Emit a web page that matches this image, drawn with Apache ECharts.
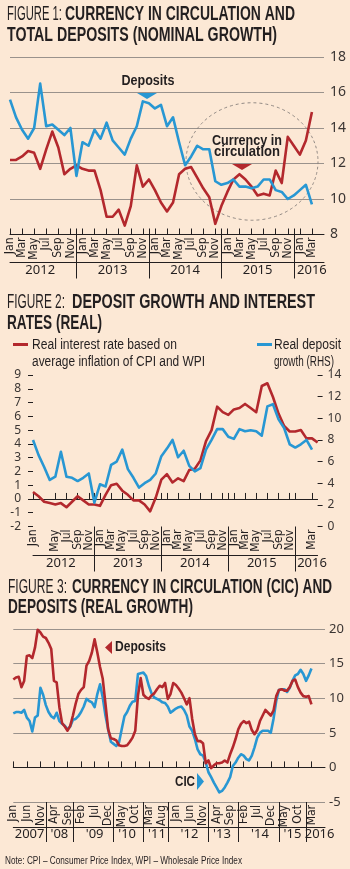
<!DOCTYPE html>
<html>
<head>
<meta charset="utf-8">
<script src="https://cdn.jsdelivr.net/npm/echarts@6/dist/echarts.min.js"></script>
<style>
  html, body { margin: 0; padding: 0; background: #fce8d5; }
  #chart { width: 350px; height: 869px; }
</style>
</head>
<body>
<div id="chart"></div>
<script>
// figure 1: nominal growth, Jan 2012 - Mar 2016
const fig1Deposits = [15.6, 14.6, 13.9, 13.4, 14.0, 16.5, 14.1, 14.2, 13.9, 13.6, 14.0, 11.3,
  13.2, 13.0, 13.9, 13.4, 14.3, 13.3, 12.9, 12.5, 13.4, 14.1, 15.5, 15.4,
  15.1, 15.3, 14.1, 14.6, 13.2, 11.9, 12.4, 13.0, 12.8, 12.8, 11.0, 10.8,
  10.9, 11.1, 10.7, 10.7, 10.6, 10.7, 11.1, 11.1, 10.5, 10.4, 10.0, 10.2,
  10.5, 10.8, 9.7];
const fig1Currency = [12.2, 12.2, 12.4, 12.7, 12.6, 11.7, 12.8, 13.8, 12.9, 11.4, 11.7, 11.9,
  11.7, 11.6, 11.6, 10.5, 9.0, 9.0, 9.4, 8.5, 9.6, 11.9, 10.7, 11.1,
  10.5, 9.8, 9.3, 9.8, 11.4, 11.7, 11.8, 11.2, 10.6, 10.1, 8.6, 9.6,
  10.4, 11.1, 11.4, 11.1, 10.7, 10.2, 10.3, 10.2, 11.6, 10.9, 13.5, 13.0,
  12.5, 13.3, 14.9];
const fig1YearLabels = ['2012', '2013', '2014', '2015', '2016'];
const fig1YearPos = [5, 17, 29, 41, 50];

// figure 2: real rates, Jan 2012 - Apr 2016
const fig2Rate = [0.5, 0.2, -0.2, -0.3, -0.4, -0.3, -0.6, -0.2, 0.2, -0.1, -0.4, -0.4,
  -0.5, 0.3, 1.0, 1.1, 0.6, 0.3, -0.1, -0.1, -0.4, -0.9, 0.1, 1.4,
  1.8, 1.2, 1.5, 1.3, 2.1, 2.2, 2.8, 4.2, 5.0, 6.7, 6.3, 6.1,
  6.5, 6.6, 6.9, 6.6, 6.3, 8.2, 8.4, 7.4, 6.2, 5.3, 4.9, 4.9,
  5.0, 4.4, 4.4, 4.1];
const fig2Deposit = [8.0, 6.6, 5.5, 4.3, 4.6, 6.9, 4.6, 4.5, 4.2, 4.5, 4.9, 2.2,
  3.9, 3.7, 5.7, 6.0, 7.1, 5.3, 4.5, 3.6, 4.0, 4.3, 4.9, 6.5,
  7.2, 8.0, 6.4, 7.0, 5.6, 5.1, 5.4, 7.1, 8.0, 9.0, 9.0, 8.3,
  8.1, 9.0, 8.8, 8.9, 8.8, 8.4, 11.1, 11.3, 9.9, 9.1, 7.6, 7.3,
  7.6, 8.0, 7.1];
const fig2YearLabels = ['2012', '2013', '2014', '2015', '2016'];
const fig2YearPos = [5, 17, 29, 41, 50];

// figure 3: real growth, Jan 2007 - Mar 2016
const fig3Deposits = [12.7, 13.0, 13.1, 11.6, 12.5, 16.1, 16.2, 15.8, 17.3, 19.9,
  19.5, 18.9, 18.7, 18.0, 17.1, 12.5, 12.3, 8.7, 6.4, 5.9,
  5.3, 6.0, 7.5, 9.2, 10.6, 11.2, 11.6, 14.7, 15.4, 16.6,
  18.5, 16.6, 14.5, 12.8, 9.2, 5.5, 4.2, 4.1, 3.9, 3.2,
  3.1, 3.1, 3.2, 3.7, 4.3, 5.3, 10.4, 12.9, 10.5, 10.1,
  9.9, 10.4, 10.7, 11.3, 11.8, 11.6, 12.2, 9.9, 10.6, 12.2,
  11.9, 11.4, 10.8, 10.0, 9.1, 10.0, 7.0, 4.8, 3.8, 3.8,
  3.5, 0.6, 1.0, -0.1, 0.3, 0.6, 0.6, 0.7, 1.0, 0.7,
  1.9, 2.9, 4.1, 5.5, 6.3, 6.7, 6.4, 6.6, 5.4, 4.8,
  5.4, 6.7, 7.5, 8.3, 7.9, 7.5, 8.2, 10.3, 11.2, 11.3,
  11.1, 11.1, 11.6, 12.5, 12.7, 11.6, 10.8, 10.3, 10.2, 10.3,
  9.1];
const fig3Cic = [7.8, 8.0, 8.0, 7.9, 8.3, 7.2, 6.7, 5.2, 7.2, 7.5,
  11.5, 10.5, 9.0, 8.0, 7.4, 7.1, 7.9, 6.7, 6.3, 6.0,
  5.5, 5.9, 6.9, 7.0, 7.4, 8.0, 8.8, 9.9, 9.6, 9.4,
  8.7, 10.6, 12.0, 10.1, 7.5, 5.5, 3.7, 3.4, 3.1, 3.6,
  5.5, 7.4, 8.0, 8.9, 9.5, 9.6, 13.5, 13.6, 13.7, 13.2,
  11.8, 10.7, 10.1, 9.9, 9.7, 9.4, 9.3, 8.8, 7.9, 8.2,
  8.5, 8.7, 8.8, 8.3, 7.5, 5.9, 5.3, 4.1, 2.6, 1.9,
  1.7, 0.7, -0.7, -1.4, -2.2, -2.9, -3.6, -3.4, -2.9, -2.2,
  -1.4, 0.2, 0.7, 1.4, 1.9, 1.7, 1.2, 1.0, 1.7, 2.9,
  4.3, 5.0, 5.3, 5.3, 5.3, 5.0, 7.0, 9.6, 11.2, 11.3,
  11.3, 10.9, 11.5, 12.5, 13.3, 13.5, 14.1, 13.5, 12.5, 13.3,
  14.3];
const fig3YearLabels = ['2007', "'08", "'09", "'10", "'11", "'12", "'13", "'14", "'15", '2016'];
const fig3YearPos = [6, 17, 30, 42, 53, 65, 77, 91, 103, 113];
const fig3Breaks = [12, 22, 37, 48, 57, 72, 83, 98, 108];

const monthNames = ['Jan', 'Feb', 'Mar', 'Apr', 'May', 'Jun', 'Jul', 'Aug', 'Sep', 'Oct', 'Nov', 'Dec'];

const ink = '#231f20';
const red = '#b3282d';
const blue = '#2897d3';
const rule = '#9a928c';
const narrow = "'Liberation Sans Narrow', 'DejaVu Sans Condensed', sans-serif";
const sans = "'Noto Sans', 'Open Sans', sans-serif";

function monthRange(startYear, count) {
  const out = [];
  for (let i = 0; i < count; i++) {
    out.push(monthNames[i % 12] + ' ' + (startYear + Math.floor(i / 12)));
  }
  return out;
}

function yearRow(length, pos, labels) {
  const row = new Array(length).fill('');
  pos.forEach((p, k) => { row[p] = labels[k]; });
  return row;
}

// three stacked x axes: months, year separators + years, rule under the months
function timeAxes(grid, cats, o) {
  const years = yearRow(cats.length, o.yearPos, o.yearLabels);
  return [
    {
      gridIndex: grid, type: 'category', position: 'bottom', data: cats, boundaryGap: false,
      axisLine: { lineStyle: { color: ink, width: 1 } },
      axisTick: { inside: true, length: 6, lineStyle: { color: ink }, interval: (i) => o.tick(i) || (o.sepUp && o.sep(i)) },
      axisLabel: {
        rotate: 90, interval: (i) => o.tick(i), formatter: (v) => v.split(' ')[0],
        showMinLabel: true, showMaxLabel: true,
        fontFamily: narrow, fontSize: 12, color: ink, margin: 3,
      },
      splitLine: { show: false },
    },
    {
      gridIndex: grid, type: 'category', position: 'bottom', data: cats, boundaryGap: false,
      axisLine: { show: false },
      axisTick: { length: o.sepLen, lineStyle: { color: ink }, interval: (i) => o.sep(i) },
      axisLabel: {
        interval: (i) => years[i] !== '', formatter: (v, i) => years[i],
        showMinLabel: true, showMaxLabel: true,
        fontFamily: sans, fontSize: 13, color: ink, margin: o.yearMargin,
      },
      splitLine: { show: false },
    },
    {
      gridIndex: grid, type: 'category', position: 'bottom', offset: o.lineOffset, data: cats, boundaryGap: false,
      axisLine: { lineStyle: { color: ink, width: 1 } },
      axisTick: { show: false },
      axisLabel: { show: false },
      splitLine: { show: false },
    },
  ];
}

const fig1Cats = monthRange(2012, 53);
const fig2Cats = monthRange(2012, 52);
const fig3Cats = monthRange(2007, 116);

const xAxes = [].concat(
  timeAxes(0, fig1Cats, {
    tick: (i) => i <= 50 && i % 2 === 0, sep: (i) => i % 12 === 11, sepUp: true,
    sepLen: 44, lineOffset: 28, yearMargin: 29, yearPos: fig1YearPos, yearLabels: fig1YearLabels,
  }),
  timeAxes(1, fig2Cats, {
    tick: (i) => i <= 50 && i % 2 === 0, sep: (i) => i % 12 === 11, sepUp: true,
    sepLen: 45, lineOffset: 28.5, yearMargin: 30, yearPos: fig2YearPos, yearLabels: fig2YearLabels,
  }),
  timeAxes(2, fig3Cats, {
    tick: (i) => i <= 110 && i % 5 === 0, sep: (i) => fig3Breaks.indexOf(i) >= 0, sepUp: false,
    sepLen: 40, lineOffset: 25, yearMargin: 26, yearPos: fig3YearPos, yearLabels: fig3YearLabels,
  })
);

const yAxes = [
  {
    gridIndex: 0, type: 'value', position: 'right', min: 8, max: 18, interval: 2,
    axisLine: { show: false }, axisTick: { show: false },
    axisLabel: { fontFamily: sans, fontSize: 14, color: '#3a3533', margin: 6 },
    splitLine: { lineStyle: { color: rule, width: 1 } },
  },
  {
    gridIndex: 1, type: 'value', position: 'left', min: -2, max: 9, interval: 1,
    axisLine: { show: false }, axisTick: { show: true, length: 5, lineStyle: { color: ink } },
    axisLabel: { fontFamily: sans, fontSize: 12, color: '#3a3533', margin: 12 },
    splitLine: { show: false },
  },
  {
    gridIndex: 1, type: 'value', position: 'right', min: 0, max: 14, interval: 2,
    axisLine: { show: false }, axisTick: { show: true, length: 5, lineStyle: { color: ink } },
    axisLabel: { fontFamily: sans, fontSize: 12, color: '#3a3533', margin: 10 },
    splitLine: { show: false },
  },
  {
    gridIndex: 2, type: 'value', position: 'right', min: -5, max: 20, interval: 5,
    axisLine: { show: false }, axisTick: { show: false },
    axisLabel: { fontFamily: sans, fontSize: 13, color: '#3a3533', margin: 4 },
    splitLine: { lineStyle: { color: rule, width: 1 } },
  },
];

function lineSeries(data, color, xi, yi, z) {
  return {
    type: 'line', data: data, xAxisIndex: xi, yAxisIndex: yi, z: z,
    showSymbol: false, symbol: 'none', silent: true,
    lineStyle: { color: color, width: 2.6, join: 'round' },
  };
}

// text squeezed horizontally to the width it has in the printed graphic
const measureCtx = document.createElement('canvas').getContext('2d');
function txt(x, y, text, font, width, align) {
  measureCtx.font = font;
  const w = measureCtx.measureText(text).width;
  return {
    type: 'text', x: x, y: y, scaleX: width ? width / w : 1,
    style: {
      text: text, font: font, fill: ink,
      textAlign: align || 'left', textVerticalAlign: 'middle',
    },
  };
}

function tri(points, color) {
  return { type: 'polygon', shape: { points: points }, style: { fill: color } };
}

const boldTitle = "bold 21px 'Liberation Sans', sans-serif";
const lightTitle = "21px 'Liberation Sans', sans-serif";
const callout = "bold 14px 'Liberation Sans', sans-serif";
const legendFont = "14px 'Liberation Sans', sans-serif";

const graphics = [
  // titles
  txt(7, 14, 'FIGURE 1:', lightTitle, 55),
  txt(65, 14, 'CURRENCY IN CIRCULATION AND', boldTitle, 230),
  txt(7, 35.5, 'TOTAL DEPOSITS (NOMINAL GROWTH)', boldTitle, 270),
  txt(7, 302.5, 'FIGURE 2:', lightTitle, 58),
  txt(72, 302.5, 'DEPOSIT GROWTH AND INTEREST', boldTitle, 243),
  txt(7, 323.5, 'RATES (REAL)', boldTitle, 95),
  txt(8, 587.5, 'FIGURE 3:', lightTitle, 59),
  txt(72, 587.5, 'CURRENCY IN CIRCULATION (CIC) AND', boldTitle, 260),
  txt(8, 607.5, 'DEPOSITS (REAL GROWTH)', boldTitle, 185),

  // figure 1 callouts
  {
    type: 'circle', x: 252, y: 161.5, scaleY: 0.89, shape: { cx: 0, cy: 0, r: 66 },
    style: { fill: 'none', stroke: '#8a837e', lineWidth: 1, lineDash: [3, 3] }, z: 1,
  },
  txt(148, 81, 'Deposits', callout, 53, 'center'),
  tri([[137, 93], [157, 93], [147, 99]], blue),
  txt(247, 141, 'Currency in', callout, 70, 'center'),
  txt(247, 152, 'circulation', callout, 66, 'center'),
  tri([[232, 164], [252, 164], [242, 170]], red),

  // figure 2 legend
  { type: 'line', shape: { x1: 13, y1: 344.5, x2: 28, y2: 344.5 }, style: { stroke: red, lineWidth: 3 } },
  txt(32, 345, 'Real interest rate based on', legendFont, 145),
  txt(32, 362, 'average inflation of CPI and WPI', legendFont, 173),
  { type: 'line', shape: { x1: 257, y1: 344.5, x2: 272, y2: 344.5 }, style: { stroke: blue, lineWidth: 3 } },
  txt(274, 345, 'Real deposit', legendFont, 67),
  txt(274, 362, 'growth (RHS)', legendFont, 60),

  // figure 3 callouts
  txt(115, 647.5, 'Deposits', callout, 51),
  tri([[112, 641], [112, 654], [105, 647.5]], red),
  txt(185, 782, 'CIC', callout, 20, 'center'),
  tri([[197, 773], [197, 790], [204, 781.5]], blue),

  // note
  txt(5, 861, 'Note: CPI – Consumer Price Index, WPI – Wholesale Price Index', "11px 'Liberation Sans', sans-serif", 237),
];

const chart = echarts.init(document.getElementById('chart'), null, { renderer: 'canvas' });
chart.setOption({
  animation: false,
  backgroundColor: '#fce8d5',
  grid: [
    { left: 10, top: 57, width: 314, height: 177.5, outerBoundsMode: 'none' },
    { left: 33, top: 375, width: 284.6, height: 151.5, outerBoundsMode: 'none' },
    { left: 13.3, top: 629, width: 311.7, height: 173, outerBoundsMode: 'none' },
  ],
  xAxis: xAxes,
  yAxis: yAxes,
  series: [
    lineSeries(fig1Currency, red, 0, 0, 2),
    lineSeries(fig1Deposits, blue, 0, 0, 3),
    lineSeries(fig2Rate, red, 3, 1, 2),
    lineSeries(fig2Deposit, blue, 3, 2, 3),
    lineSeries(fig3Cic, blue, 6, 3, 2),
    lineSeries(fig3Deposits, red, 6, 3, 3),
  ],
  graphic: graphics,
});
</script>
</body>
</html>
